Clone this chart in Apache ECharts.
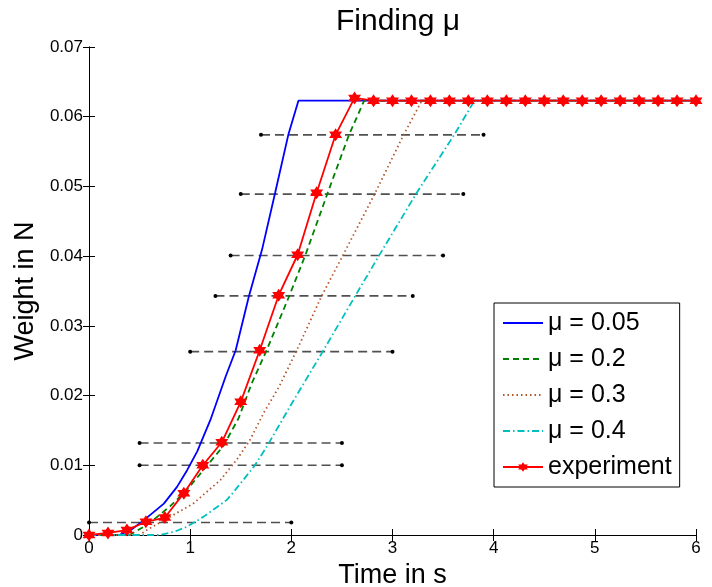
<!DOCTYPE html>
<html>
<head>
<meta charset="utf-8">
<script src="https://cdn.jsdelivr.net/npm/echarts@6/dist/echarts.min.js"></script>
<style>
  html, body { margin: 0; padding: 0; background: #fff; }
  #chart { width: 712px; height: 587px; }
</style>
</head>
<body>
<div id="chart"></div>
<script>
// model curves (time in s, weight in N)
const mu005Time = [0, 0.3, 0.42, 0.54, 0.74, 0.87, 0.97, 1.07, 1.2, 1.35, 1.45, 1.58, 1.71, 1.84, 1.97, 2.07, 6];
const mu005Weight = [0, 0, 0.0008, 0.0021, 0.0045, 0.0069, 0.0093, 0.012, 0.0165, 0.0227, 0.0265, 0.0342, 0.0409, 0.0491, 0.0574, 0.0623, 0.0623];

const mu02Time = [0, 0.4, 0.52, 0.64, 0.8, 0.97, 1.13, 1.33, 1.48, 1.61, 1.75, 1.98, 2.14, 2.36, 2.57, 2.72, 6];
const mu02Weight = [0, 0, 0.001, 0.0022, 0.0041, 0.0065, 0.0093, 0.0128, 0.0168, 0.0218, 0.0263, 0.0343, 0.0402, 0.0491, 0.0574, 0.0623, 0.0623];

const mu03Time = [0, 0.5, 0.57, 0.8, 1.03, 1.3, 1.46, 1.59, 1.73, 1.88, 2.07, 2.3, 2.52, 2.83, 3.11, 3.29, 6];
const mu03Weight = [0, 0, 0.0007, 0.0026, 0.0045, 0.0079, 0.0108, 0.0136, 0.0176, 0.0213, 0.027, 0.0343, 0.0404, 0.0491, 0.0574, 0.0623, 0.0623];

const mu04Time = [0, 0.7, 0.85, 0.97, 1.13, 1.36, 1.42, 1.63, 1.75, 1.89, 2.01, 2.31, 2.64, 2.88, 3.24, 3.61, 3.81, 6];
const mu04Weight = [0, 0, 0.0005, 0.0012, 0.0026, 0.005, 0.006, 0.0098, 0.0125, 0.016, 0.019, 0.0263, 0.0345, 0.0404, 0.0491, 0.0574, 0.0623, 0.0623];

// measured points
const expTime = [0, 0.1875, 0.375, 0.5625, 0.75, 0.9375, 1.125, 1.3125, 1.5, 1.6875, 1.875, 2.0625, 2.25, 2.4375, 2.625,
  2.8125, 3, 3.1875, 3.375, 3.5625, 3.75, 3.9375, 4.125, 4.3125, 4.5, 4.6875, 4.875, 5.0625, 5.25, 5.4375, 5.625, 5.8125, 6];
const expWeight = [0, 0.0003, 0.0007, 0.0019, 0.0025, 0.006, 0.01, 0.0133, 0.0191, 0.0265, 0.0344, 0.0402, 0.0491, 0.0574, 0.0627,
  0.0623, 0.0623, 0.0623, 0.0623, 0.0623, 0.0623, 0.0623, 0.0623, 0.0623, 0.0623, 0.0623, 0.0623, 0.0623, 0.0623, 0.0623, 0.0623, 0.0623, 0.0623];

// horizontal error bars
const errWeight = [0.0018, 0.01, 0.0132, 0.0263, 0.0343, 0.0401, 0.0489, 0.0574];
const errFrom = [0, 0.5, 0.5, 1.0, 1.25, 1.4, 1.5, 1.7];
const errTo = [2.0, 2.5, 2.5, 3.0, 3.2, 3.5, 3.7, 3.9];

const xTicks = [0, 6, 1];
const yTicks = [0, 0.07, 0.01];

const FONT = "'Liberation Sans', Arial, sans-serif";
const hexagram = "path://M0,-10 L2.9,-5 L8.66,-5 L5.8,0 L8.66,5 L2.9,5 L0,10 L-2.9,5 L-8.66,5 L-5.8,0 L-8.66,-5 L-2.9,-5 Z";

const pairs = (xs, ys) => xs.map((x, i) => [x, ys[i]]);

const series = [];
errWeight.forEach((w, i) => {
  series.push({
    type: "line",
    data: [[errFrom[i], w], [errTo[i], w]],
    symbol: "circle",
    symbolSize: 4,
    itemStyle: { color: "#000" },
    lineStyle: { color: "#505050", width: 1.6, type: [9, 5] },
    silent: true,
    z: 1
  });
});

function curve(name, xs, ys, color, type, width) {
  return {
    name,
    type: "line",
    data: pairs(xs, ys),
    showSymbol: false,
    symbol: "none",
    lineStyle: { color, width, type },
    itemStyle: { color },
    z: 2
  };
}

series.push(curve("\u03bc = 0.05", mu005Time, mu005Weight, "#0000ff", "solid", 1.8));
series.push(curve("\u03bc = 0.2", mu02Time, mu02Weight, "#008000", [6, 4], 1.8));
series.push(curve("\u03bc = 0.3", mu03Time, mu03Weight, "#b5562a", [1.5, 3], 1.8));
series.push(curve("\u03bc = 0.4", mu04Time, mu04Weight, "#00bfbf", [7, 3, 1.5, 3], 1.8));
series.push({
  name: "experiment",
  type: "line",
  data: pairs(expTime, expWeight),
  symbol: hexagram,
  symbolSize: 13,
  itemStyle: { color: "#ff0000" },
  lineStyle: { color: "#ff0000", width: 1.8 },
  z: 3
});

const chart = echarts.init(document.getElementById("chart"));
const axisLine = { show: true, lineStyle: { color: "#000", width: 1 } };
const axisTick = { show: true, inside: true, length: 6, lineStyle: { color: "#000" } };
const noMarker = { opacity: 0 };

chart.setOption({
  animation: false,
  backgroundColor: "#fff",
  title: {
    text: "Finding \u03bc",
    left: 393,
    top: 2,
    textAlign: "center",
    textStyle: { fontFamily: FONT, fontSize: 30, fontWeight: "normal", color: "#000" }
  },
  grid: { left: 89, right: 16, top: 47, bottom: 52, outerBoundsMode: "none" },
  legend: {
    orient: "vertical",
    left: 494,
    top: 303,
    padding: [6, 8, 6, 8],
    borderColor: "#000",
    borderWidth: 1,
    backgroundColor: "#fff",
    itemWidth: 40,
    itemHeight: 12,
    itemGap: 8,
    textStyle: { fontFamily: FONT, fontSize: 25, color: "#000", lineHeight: 28 },
    data: [
      { name: "\u03bc = 0.05", itemStyle: noMarker },
      { name: "\u03bc = 0.2", itemStyle: noMarker },
      { name: "\u03bc = 0.3", itemStyle: noMarker },
      { name: "\u03bc = 0.4", itemStyle: noMarker },
      { name: "experiment" }
    ]
  },
  xAxis: [
    {
      type: "value",
      min: xTicks[0], max: xTicks[1], interval: xTicks[2],
      name: "Time in s",
      nameLocation: "middle",
      nameGap: 24,
      nameTextStyle: { fontFamily: FONT, fontSize: 27, color: "#000" },
      axisLine, axisTick,
      splitLine: { show: false },
      axisLabel: { fontFamily: FONT, fontSize: 17, color: "#000", margin: 5 }
    },
    {
      type: "value", position: "top",
      min: xTicks[0], max: xTicks[1], interval: xTicks[2],
      axisLine, axisTick,
      splitLine: { show: false },
      axisLabel: { show: false }
    }
  ],
  yAxis: [
    {
      type: "value",
      min: yTicks[0], max: yTicks[1], interval: yTicks[2],
      name: "Weight in N",
      nameLocation: "middle",
      nameGap: 39,
      nameTextStyle: { fontFamily: FONT, fontSize: 27, color: "#000" },
      axisLine, axisTick,
      splitLine: { show: false },
      axisLabel: { fontFamily: FONT, fontSize: 17, color: "#000", margin: 6 }
    },
    {
      type: "value", position: "right",
      min: yTicks[0], max: yTicks[1], interval: yTicks[2],
      axisLine, axisTick,
      splitLine: { show: false },
      axisLabel: { show: false }
    }
  ],
  series
});
</script>
</body>
</html>
